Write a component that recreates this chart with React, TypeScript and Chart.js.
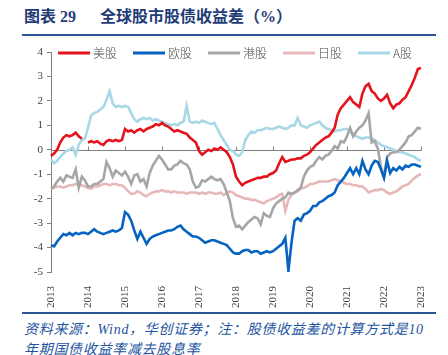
import React, { useEffect, useRef } from "react";
import { Chart, registerables } from "chart.js";

Chart.register(...registerables);

// ---- data ----
const yearLabels = ["2013", "2014", "2015", "2016", "2017", "2018", "2019", "2020", "2021", "2022", "2023"];
const months: string[] = [];
for (const y of yearLabels) {
  for (let m = 1; m <= 12; m++) {
    if (y === "2023" && m > 1) break;
    months.push(`${y}-${m < 10 ? "0" + m : m}`);
  }
}

const seriesNames = ["美股", "欧股", "港股", "日股", "A股"];
const seriesColors = ["#e5131b", "#0563c1", "#a6a6a6", "#e6b9b8", "#a8d8e6"];

const usSpread = [
  -0.25, -0.15, 0.0, 0.3, 0.5, 0.6, 0.55, 0.6, 0.7, 0.55, 0.45, null,
  0.3, 0.35, 0.3, 0.35, 0.25, 0.2, 0.35, 0.4, 0.35, 0.4, 0.35, 0.4,
  0.85, 0.75, 0.8, 0.7, 0.8, 0.85, 0.75, 0.85, 0.9, 0.95, 1.05, 1.0,
  1.1, 1.0, 0.95, 0.85, 0.75, 0.8, 0.75, 0.7, 0.65, 0.5, 0.4, 0.3,
  -0.05, -0.2, -0.1, 0.0, -0.05, 0.05, 0.0, 0.1, 0.0, -0.1, -0.3, -0.6,
  -1.1, -1.3, -1.45, -1.35, -1.3, -1.25, -1.2, -1.15, -1.15, -1.1, -1.1, -1.0,
  -0.95, -0.85, -0.55, -0.3, -0.5, -0.45, -0.4, -0.4, -0.35, -0.35, -0.25, -0.2,
  -0.1, 0.05, 0.2, 0.3, 0.4, 0.5, 0.55, 0.7, 0.9, 1.45, 1.7, 1.85,
  2.0, 2.15, 1.95, 1.85, 1.75, 2.3, 2.6, 2.7, 2.4, 2.3, 2.1, 2.0,
  2.1, 2.25, 1.9, 1.7, 1.85, 1.9, 2.05, 2.15, 2.4, 2.65, 2.95, 3.3,
  3.35,
];

const euSpread = [
  -3.9, -3.95, -3.75, -3.6, -3.45, -3.5, -3.4, -3.5, -3.4, -3.45, -3.4, -3.4,
  -3.45, -3.35, -3.25, -3.35, -3.4, -3.45, -3.4, -3.35, -3.3, -3.35, -3.3, -3.2,
  -2.55, -2.65, -2.9, -3.3, -3.65, -3.35, -3.6, -3.85, -3.65, -3.55, -3.5, -3.45,
  -3.4, -3.35, -3.3, -3.3, -3.25, -3.15, -3.1, -3.25, -3.35, -3.45, -3.55, -3.55,
  -3.6, -3.7, -3.8, -3.75, -3.7, -3.7, -3.75, -3.8, -3.85, -3.9, -4.05, -4.2,
  -4.25, -4.25, -4.15, -4.1, -4.1, -4.2, -4.15, -4.15, -4.25, -4.2, -4.15, -4.2,
  -4.15, -4.05, -3.95, -3.85, -3.6, -4.95, -3.8, -2.9, -2.8, -2.9, -2.65, -2.6,
  -2.5, -2.3, -2.3, -2.15, -2.1, -2.0, -1.9, -1.85, -1.75, -1.45, -1.3, -1.15,
  -0.95, -0.75, -1.0, -0.75, -1.0, -0.45, -0.8, -1.0, -0.65, -0.45, -0.5, -0.8,
  -1.15, -0.45, -0.95, -0.75, -0.85, -0.7, -0.8, -0.65, -0.7, -0.6, -0.6, -0.65,
  -0.7,
];

const hkSpread = [
  -1.6, -1.5, -1.3, -1.15, -1.3, -1.05, -1.1, -1.15, -0.8, -1.55, -1.1, -1.25,
  -1.5, -1.5, -1.4, -1.4, -1.3, -1.2, -0.5, -0.75, -1.1, -0.85, -0.95, -1.05,
  -0.9, -1.1, -1.4, -1.05, -1.0, -1.3, -1.2, -1.5, -0.95, -0.65, -0.45, -0.25,
  -0.4, -0.6, -0.8, -0.8, -0.65, -0.6, -0.45, -0.55, -0.6, -0.8, -1.3, -1.55,
  -1.5, -1.25, -1.3, -1.2, -1.1, -1.2, -1.25, -1.2, -1.4, -1.75, -2.1, -2.8,
  -3.15, -3.1, -3.25, -3.1, -2.95, -2.85, -2.75, -2.8, -3.05, -2.6, -2.7, -2.75,
  -2.4, -2.2, -2.1, -2.0, -1.95, -1.75, -1.8, -1.75, -1.65, -1.55, -1.1, -0.85,
  -0.7, -0.65, -0.45, -0.3, -0.4, -0.25, -0.2, -0.05, 0.15, 0.05, 0.35, 0.3,
  0.55, 0.9, 0.55, 0.75, 0.9, 1.0, 1.2, 1.5, 0.3, 0.35, 0.05, -0.7,
  -1.1, -0.3, -0.15, -0.1, -0.1, 0.0, 0.15, 0.3, 0.55, 0.6, 0.75, 0.9,
  0.85,
];

const jpSpread = [
  -1.6, -1.55, -1.5, -1.5, -1.55, -1.5, -1.45, -1.45, -1.4, -1.45, -1.45, -1.5,
  -1.55, -1.6, -1.5, -1.5, -1.45, -1.4, -1.4, -1.45, -1.4, -1.4, -1.45, -1.45,
  -1.55, -1.7, -1.8, -1.8, -1.7, -1.75, -1.85, -1.9, -1.8, -1.75, -1.7, -1.7,
  -1.65, -1.7, -1.7, -1.75, -1.7, -1.75, -1.75, -1.75, -1.8, -1.75, -1.75, -1.75,
  -1.8, -1.75, -1.8, -1.75, -1.75, -1.8, -1.8, -1.75, -1.85, -1.75, -1.7, -1.75,
  -1.85, -1.9, -1.95, -2.0, -2.0, -2.05, -2.05, -2.1, -2.15, -2.2, -2.1, -2.05,
  -2.0, -1.95, -1.85, -1.8, -2.5, -2.05, -1.85, -1.75, -1.7, -1.6, -1.55, -1.5,
  -1.4, -1.4, -1.35, -1.3, -1.3, -1.3, -1.3, -1.25, -1.2, -1.25, -1.3, -1.35,
  -1.4, -1.4, -1.45, -1.45, -1.5, -1.5, -1.6, -1.75, -1.7, -1.65, -1.65, -1.6,
  -1.65, -1.75, -1.8, -1.75, -1.7, -1.6, -1.5, -1.45, -1.4, -1.25, -1.15, -1.05,
  -1.0,
];

const cnSpread = [
  -0.4, -0.55, -0.45, -0.3, -0.15, -0.05, 0.0, 0.1, -0.2, 0.2, 0.4, 0.45,
  0.9, 1.4, 1.5, 1.55, 1.65, 1.75, 2.05, 2.4, 1.9, 1.75, 1.8, 1.75,
  1.8, 1.75, 1.5, 1.25, 1.15, 1.25, 1.3, 1.25, 1.3, 1.2, 1.25, 1.2,
  1.15, 1.1, 1.05, 1.0, 1.05, 1.0, 1.1, 1.15, 1.8, 1.15, 1.1, 1.15,
  1.1, 1.2, 1.15, 1.1, 1.05, 1.1, 0.85, 0.6, 0.4, 0.2, 0.0, -0.05,
  -0.2, -0.25, -0.1, 0.4, 0.6, 0.75, 0.7, 0.8, 0.8, 0.85, 0.9, 0.85,
  0.85, 0.9, 0.95, 0.9, 0.85, 0.9, 1.0, 1.0, 1.3, 1.0, 0.95, 0.9,
  1.0, 1.05, 1.1, 1.15, 1.0, 0.9, 0.85, 0.8, 0.75, 0.8, 0.8, 0.85,
  0.85, 0.75, 0.6, 0.55, 0.5, 0.45, 0.5, 0.5, 0.45, 0.4, 0.3, 0.2,
  0.15, 0.1, 0.05, 0.0, -0.05, -0.1, -0.1, -0.15, -0.2, -0.25, -0.3, -0.4,
  -0.45,
];

const seriesData = [usSpread, euSpread, hkSpread, jpSpread, cnSpread];
const yMin = -5;
const yMax = 4;

const serifStack = '"Liberation Serif", "Noto Sans CJK SC", serif';

const overlayPlugin = {
  id: "overlay",
  beforeDatasetsDraw(chart: any) {
    const { ctx, chartArea, scales } = chart;
    const y0 = Math.round(scales.y.getPixelForValue(0)) + 0.5;
    ctx.save();
    ctx.strokeStyle = "#7f7f7f";
    ctx.lineWidth = 1;
    ctx.beginPath();
    ctx.moveTo(chartArea.left, y0);
    ctx.lineTo(chartArea.right, y0);
    months.forEach((lab, i) => {
      if (lab.endsWith("-01")) {
        const x = Math.round(scales.x.getPixelForValue(i)) + 0.5;
        ctx.moveTo(x, y0);
        ctx.lineTo(x, y0 - 4);
      }
    });
    ctx.stroke();
    ctx.restore();
  },
  afterDraw(chart: any) {
    const { ctx, chartArea } = chart;
    ctx.save();
    const y = chartArea.top + 1;
    ctx.font = '300 12px "Noto Sans CJK SC", sans-serif';
    ctx.textBaseline = "middle";
    seriesNames.forEach((name, i) => {
      const x0 = chartArea.left + 7 + i * 75;
      ctx.strokeStyle = seriesColors[i];
      ctx.lineWidth = 3;
      ctx.beginPath();
      ctx.moveTo(x0, y);
      ctx.lineTo(x0 + 32, y);
      ctx.stroke();
      ctx.fillStyle = "#4d4d4d";
      ctx.fillText(name, x0 + 35, y);
    });
    ctx.restore();
  },
};

export default function App() {
  const ref = useRef<HTMLCanvasElement>(null);
  useEffect(() => {
    const chart = new Chart(ref.current as HTMLCanvasElement, {
      type: "line",
      data: {
        labels: months,
        datasets: seriesNames.map((name, i) => ({
          label: name,
          data: seriesData[i],
          borderColor: seriesColors[i],
          backgroundColor: seriesColors[i],
          borderWidth: 2.6,
          pointRadius: 0,
          tension: 0,
          spanGaps: false,
        })),
      },
      options: {
        animation: false,
        responsive: false,
        devicePixelRatio: 1,
        layout: { padding: { left: 0, right: 27, top: 12, bottom: 0 } },
        plugins: { legend: { display: false }, tooltip: { enabled: false } },
        scales: {
          x: {
            type: "category",
            offset: false,
            grid: { display: false },
            border: { display: false },
            ticks: {
              autoSkip: false,
              maxRotation: 90,
              minRotation: 90,
              padding: 6,
              color: "#404040",
              font: { family: serifStack, size: 11 },
              callback: (_v: any, i: number) => (months[i].endsWith("-01") ? months[i].slice(0, 4) : ""),
            },
            afterFit: (s: any) => {
              s.height = 38;
            },
          },
          y: {
            min: yMin,
            max: yMax,
            ticks: {
              stepSize: 1,
              padding: 4,
              color: "#404040",
              font: { family: serifStack, size: 11 },
            },
            grid: { display: true, drawOnChartArea: false, drawTicks: true, tickLength: 4, color: "#808080" },
            border: { display: true, color: "#808080", width: 1 },
            afterFit: (s: any) => {
              s.width = 51;
            },
          },
        },
      },
      plugins: [overlayPlugin],
    } as any);
    return () => chart.destroy();
  }, []);

  const navy = "#1f3c78";
  const footBlue = "#2453a0";
  return (
    <div style={{ position: "absolute", left: 0, top: 0, width: 448, height: 355, overflow: "hidden", background: "#fff" }}>
      <div style={{ position: "absolute", left: 24, top: 9, fontFamily: serifStack, fontWeight: 700, fontSize: 16, lineHeight: "16px", color: navy, whiteSpace: "nowrap" }}>
        图表 29
      </div>
      <div style={{ position: "absolute", left: 100, top: 9, fontFamily: serifStack, fontWeight: 700, fontSize: 16, lineHeight: "16px", color: navy, whiteSpace: "nowrap" }}>
        全球股市股债收益差（%）
      </div>
      <div style={{ position: "absolute", left: 22, top: 34, width: 414, height: 2, background: "#2b5596" }} />
      <canvas ref={ref} width={448} height={270} style={{ position: "absolute", left: 0, top: 40, width: 448, height: 270 }} />
      <div style={{ position: "absolute", left: 22, top: 312, width: 414, height: 2, background: "#2b5596" }} />
      <div style={{ position: "absolute", left: 24, top: 322, fontFamily: serifStack, fontStyle: "italic", fontSize: 14, lineHeight: "16px", color: footBlue, whiteSpace: "nowrap", letterSpacing: 0.7 }}>
        资料来源：Wind，华创证券；注：股债收益差的计算方式是10
      </div>
      <div style={{ position: "absolute", left: 24, top: 342, fontFamily: serifStack, fontStyle: "italic", fontSize: 14, lineHeight: "16px", color: footBlue, whiteSpace: "nowrap", letterSpacing: 0.7 }}>
        年期国债收益率减去股息率
      </div>
    </div>
  );
}
